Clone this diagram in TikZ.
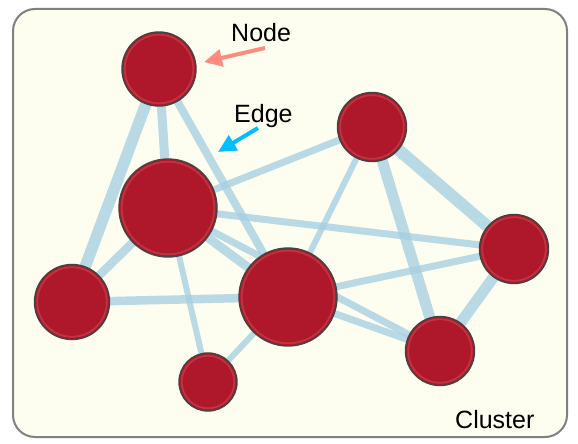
\documentclass[tikz,border=0pt]{standalone}
\usepackage{fontspec}
\setmainfont{Liberation Sans}
\usetikzlibrary{arrows.meta}
\definecolor{bgcream}{RGB}{253,253,240}
\definecolor{framegray}{RGB}{128,128,128}
\definecolor{nodered}{RGB}{175,24,43}
\definecolor{ringred}{RGB}{192,52,66}
\definecolor{nodeline}{RGB}{70,66,66}
\definecolor{edgeblue}{RGB}{166,208,226}
\definecolor{salmonarrow}{RGB}{255,138,128}
\definecolor{skyarrow}{RGB}{0,191,255}
\pgfdeclarelayer{bg}\pgfdeclarelayer{edges}
\pgfsetlayers{bg,edges,main}
\begin{document}
\begin{tikzpicture}[x=1pt,y=-1pt,
 vertex/.style={circle, fill=nodered, draw=nodeline, line width=1.4pt, inner sep=0pt},
 link/.style={draw=edgeblue, opacity=0.78, line cap=butt},
 ring/.style={draw=ringred, line width=1.8pt},
 lbl/.style={font=\fontsize{25}{29}\selectfont, text=black, inner sep=0pt, anchor=base west},
 pointer/.style={line width=4pt, -{Triangle[length=18pt,width=17pt]}}
]
\useasboundingbox (0,0) rectangle (578,444);
\begin{pgfonlayer}{bg}
\draw[framegray, fill=bgcream, line width=2pt, rounded corners=22pt] (13,9) rectangle (567,437);
\end{pgfonlayer}

% nodes
\node[vertex, minimum size=74pt] (A) at (159,69) {};
\node[vertex, minimum size=98pt] (B) at (168,208) {};
\node[vertex, minimum size=69pt] (C) at (372,127) {};
\node[vertex, minimum size=69pt] (D) at (514,249) {};
\node[vertex, minimum size=75pt] (E) at (72,302) {};
\node[vertex, minimum size=98pt] (F) at (288,297) {};
\node[vertex, minimum size=69pt] (G) at (440,351) {};
\node[vertex, minimum size=58pt] (H) at (208,382) {};

% inner rings
\draw[ring] (A.center) circle (34.3pt);
\draw[ring] (B.center) circle (46.3pt);
\draw[ring] (C.center) circle (31.8pt);
\draw[ring] (D.center) circle (31.8pt);
\draw[ring] (E.center) circle (34.8pt);
\draw[ring] (F.center) circle (46.3pt);
\draw[ring] (G.center) circle (31.8pt);
\draw[ring] (H.center) circle (26.3pt);

% edges
\begin{pgfonlayer}{edges}
\draw[link, line width=11.5pt] (A.center) -- (E.center);
\draw[link, line width=9pt] (A.center) -- (B.center);
\draw[link, line width=8pt] (A.center) -- (F.center);
\draw[link, line width=8.5pt] (B.center) -- (E.center);
\draw[link, line width=9pt] (B.center) -- (F.center);
\draw[link, line width=7pt] (B.center) -- (G.center);
\draw[link, line width=7pt] (B.center) -- (C.center);
\draw[link, line width=7pt] (B.center) -- (D.center);
\draw[link, line width=6pt] (B.center) -- (H.center);
\draw[link, line width=8.5pt] (E.center) -- (F.center);
\draw[link, line width=6pt] (F.center) -- (H.center);
\draw[link, line width=6pt] (C.center) -- (F.center);
\draw[link, line width=12pt] (C.center) -- (D.center);
\draw[link, line width=11pt] (C.center) -- (G.center);
\draw[link, line width=11pt] (D.center) -- (G.center);
\draw[link, line width=7pt] (D.center) -- (F.center);
\draw[link, line width=7pt] (F.center) -- (G.center);
\end{pgfonlayer}

% labels and pointers
\node[lbl] (nodelbl) at (231,42) {Node};
\node[lbl] (edgelbl) at (234,122) {Edge};
\node[lbl] (clusterlbl) at (455,428) {Cluster};
\coordinate (na1) at (265,48);
\coordinate (na2) at (204,62);
\coordinate (ea1) at (258,128);
\coordinate (ea2) at (218,152);
\draw[pointer, salmonarrow] (na1) -- (na2);
\draw[pointer, skyarrow] (ea1) -- (ea2);
\end{tikzpicture}
\end{document}
